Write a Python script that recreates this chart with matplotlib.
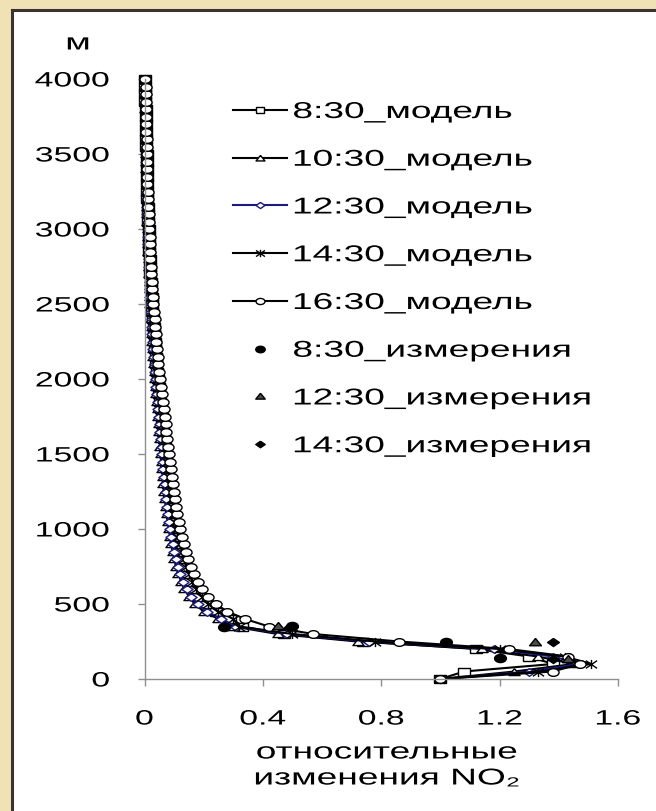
import matplotlib
matplotlib.use("Agg")
import matplotlib.pyplot as plt
from matplotlib import patheffects
from matplotlib.lines import Line2D
from matplotlib.path import Path
from matplotlib.patches import Rectangle
from matplotlib.transforms import Affine2D
import numpy as np

plt.rcParams['font.family'] = ['Liberation Sans', 'DejaVu Sans']

# model levels, m
heights_m = list(range(0, 4001, 50))

# relative NO2 change, model profiles
model_0830 = [1.00, 1.08, 1.38, 1.30, 1.12, 0.74, 0.47, 0.33, 0.29, 0.24,
              0.205, 0.183, 0.166, 0.153, 0.142, 0.133, 0.126, 0.119, 0.113, 0.108,
              0.103, 0.099, 0.094, 0.091, 0.088, 0.084, 0.081, 0.078, 0.076, 0.073,
              0.071, 0.068, 0.065, 0.063, 0.060, 0.058, 0.055, 0.053, 0.050, 0.048,
              0.045, 0.043, 0.040, 0.038, 0.036, 0.034, 0.032, 0.031, 0.029, 0.027,
              0.026, 0.024, 0.022, 0.021, 0.020, 0.019, 0.017, 0.016, 0.015, 0.014,
              0.014, 0.013, 0.012, 0.011, 0.010, 0.009, 0.009, 0.008, 0.008, 0.007,
              0.007, 0.006, 0.006, 0.005, 0.005, 0.004, 0.004, 0.003, 0.003, 0.003,
              0.003]
model_1030 = [1.00, 1.25, 1.45, 1.33, 1.14, 0.72, 0.45, 0.30, 0.25, 0.20,
              0.170, 0.150, 0.135, 0.124, 0.114, 0.107, 0.100, 0.095, 0.090, 0.086,
              0.082, 0.078, 0.075, 0.072, 0.069, 0.066, 0.064, 0.062, 0.060, 0.058,
              0.056, 0.054, 0.052, 0.050, 0.048, 0.046, 0.044, 0.042, 0.040, 0.038,
              0.036, 0.034, 0.032, 0.030, 0.028, 0.027, 0.026, 0.024, 0.023, 0.022,
              0.020, 0.019, 0.018, 0.017, 0.016, 0.015, 0.014, 0.013, 0.012, 0.012,
              0.011, 0.010, 0.010, 0.009, 0.008, 0.008, 0.007, 0.007, 0.006, 0.006,
              0.005, 0.005, 0.005, 0.004, 0.004, 0.004, 0.003, 0.003, 0.003, 0.003,
              0.002]
model_1230 = [1.00, 1.30, 1.47, 1.38, 1.18, 0.76, 0.48, 0.31, 0.26, 0.21,
              0.180, 0.158, 0.142, 0.130, 0.120, 0.113, 0.106, 0.100, 0.095, 0.091,
              0.087, 0.083, 0.080, 0.077, 0.074, 0.071, 0.068, 0.066, 0.064, 0.062,
              0.060, 0.058, 0.055, 0.053, 0.051, 0.049, 0.047, 0.045, 0.043, 0.040,
              0.038, 0.036, 0.034, 0.032, 0.030, 0.029, 0.027, 0.026, 0.024, 0.023,
              0.022, 0.020, 0.019, 0.018, 0.017, 0.016, 0.015, 0.014, 0.013, 0.012,
              0.012, 0.011, 0.010, 0.010, 0.009, 0.008, 0.008, 0.007, 0.007, 0.006,
              0.006, 0.005, 0.005, 0.005, 0.004, 0.004, 0.004, 0.003, 0.003, 0.003,
              0.002]
model_1430 = [1.00, 1.33, 1.51, 1.42, 1.20, 0.78, 0.50, 0.32, 0.30, 0.25,
              0.215, 0.193, 0.175, 0.162, 0.150, 0.141, 0.133, 0.126, 0.120, 0.114,
              0.109, 0.104, 0.100, 0.096, 0.093, 0.089, 0.086, 0.083, 0.080, 0.077,
              0.075, 0.072, 0.069, 0.067, 0.064, 0.061, 0.059, 0.056, 0.053, 0.050,
              0.048, 0.045, 0.042, 0.041, 0.038, 0.036, 0.034, 0.032, 0.031, 0.029,
              0.027, 0.025, 0.023, 0.023, 0.021, 0.020, 0.018, 0.017, 0.016, 0.015,
              0.014, 0.014, 0.013, 0.012, 0.011, 0.010, 0.009, 0.009, 0.008, 0.007,
              0.007, 0.006, 0.006, 0.005, 0.005, 0.005, 0.004, 0.004, 0.004, 0.003,
              0.003]
model_1630 = [1.00, 1.38, 1.47, 1.43, 1.23, 0.86, 0.57, 0.42, 0.34, 0.28,
              0.240, 0.215, 0.195, 0.180, 0.167, 0.157, 0.148, 0.140, 0.133, 0.127,
              0.121, 0.116, 0.111, 0.107, 0.103, 0.099, 0.095, 0.092, 0.089, 0.086,
              0.083, 0.080, 0.077, 0.074, 0.071, 0.068, 0.065, 0.062, 0.059, 0.056,
              0.053, 0.050, 0.047, 0.045, 0.042, 0.040, 0.038, 0.036, 0.034, 0.032,
              0.030, 0.028, 0.026, 0.025, 0.023, 0.022, 0.020, 0.019, 0.018, 0.017,
              0.016, 0.015, 0.014, 0.013, 0.012, 0.011, 0.010, 0.010, 0.009, 0.008,
              0.008, 0.007, 0.007, 0.006, 0.006, 0.005, 0.005, 0.004, 0.004, 0.004,
              0.003]

# measurements
meas_0830_x = [0.27, 0.50, 1.02, 1.20]
meas_0830_h = [350, 355, 250, 140]
meas_1230_x = [0.45, 1.32, 1.43]
meas_1230_h = [355, 245, 135]
meas_1430_x = [0.49, 1.38, 1.38]
meas_1430_h = [350, 250, 135]

x_ticks = [0, 0.4, 0.8, 1.2, 1.6]
x_tick_labels = ['0', '0.4', '0.8', '1.2', '1.6']
y_ticks = list(range(0, 4001, 500))

W, H = 656, 812
TEXT_WIDE = 1.62
MARK_WIDE = 1.45


class WideText(patheffects.AbstractPathEffect):
    """Draws text paths stretched horizontally about one edge or the centre."""

    def __init__(self, factor, anchor='center'):
        super().__init__()
        self.factor = factor
        self.anchor = anchor

    def draw_path(self, renderer, gc, tpath, affine, rgbFace=None):
        box = affine.transform_path(tpath).get_extents()
        if self.anchor == 'left':
            x0 = box.x0
        elif self.anchor == 'right':
            x0 = box.x1
        else:
            x0 = 0.5 * (box.x0 + box.x1)
        stretch = Affine2D().translate(-x0, 0).scale(self.factor, 1).translate(x0, 0)
        renderer.draw_path(gc, tpath, affine + stretch, rgbFace)


def wide_marker(verts, codes=None):
    v = np.asarray(verts, dtype=float) * [MARK_WIDE, 1.0]
    return Path(v, codes)


m_square = wide_marker([(-1, -1), (1, -1), (1, 1), (-1, 1), (-1, -1)])
m_triangle = wide_marker([(0, 1), (-1, -0.8), (1, -0.8), (0, 1)])
m_diamond = wide_marker([(0, 1), (1, 0), (0, -1), (-1, 0), (0, 1)])
m_circle = Path(Path.unit_circle().vertices * [MARK_WIDE, 1.0], Path.unit_circle().codes)
m_star = wide_marker([(-1, -1), (1, 1), (-1, 1), (1, -1), (0, -1.2), (0, 1.2)],
                     [Path.MOVETO, Path.LINETO] * 3)

fig = plt.figure(figsize=(W / 100, H / 100), dpi=100, facecolor='#F1E2B6')
fig.add_artist(Rectangle((12 / W, 0), 1, (H - 11) / H, transform=fig.transFigure,
                         facecolor='white', edgecolor='none', zorder=-5))
fig.add_artist(Line2D([12 / W, 12 / W], [0, (H - 11) / H], color='#3b3232', lw=2.2, zorder=-4))
fig.add_artist(Line2D([12 / W, 1], [(H - 11) / H, (H - 11) / H], color='#3b3232', lw=2.2, zorder=-4))

ax = fig.add_axes([144.5 / W, 132 / H, (618 - 144.5) / W, 600 / H])
ax.set_facecolor('none')

line_kw = dict(lw=1.5, ms=8, mew=1.0, mfc='white', clip_on=False)
h1, = ax.plot(model_0830, heights_m, color='black', marker=m_square, mec='black', **line_kw)
h2, = ax.plot(model_1030, heights_m, color='black', marker=m_triangle, mec='black', **line_kw)
h3, = ax.plot(model_1230, heights_m, color='#1a1a80', marker=m_diamond, mec='#1a1a80', **line_kw)
h4, = ax.plot(model_1430, heights_m, color='black', marker=m_star, mec='black', **line_kw)
h5, = ax.plot(model_1630, heights_m, color='black', marker=m_circle, mec='black', **line_kw)

h6, = ax.plot(meas_0830_x, meas_0830_h, ls='none', marker=m_circle, ms=8.5,
              mfc='black', mec='black', clip_on=False)
h7, = ax.plot(meas_1230_x, meas_1230_h, ls='none', marker=m_triangle, ms=8.5,
              mfc='#4a4a4a', mec='black', clip_on=False)
h8, = ax.plot(meas_1430_x, meas_1430_h, ls='none', marker=m_diamond, ms=8.5,
              mfc='black', mec='black', clip_on=False)

ax.set_xlim(0, 1.6)
ax.set_ylim(0, 4000)
ax.set_xticks(x_ticks)
ax.set_xticklabels(x_tick_labels)
ax.set_yticks(y_ticks)
for side in ('top', 'right'):
    ax.spines[side].set_visible(False)
for side in ('left', 'bottom'):
    ax.spines[side].set_color('#8f8f8f')
    ax.spines[side].set_linewidth(1.0)
ax.tick_params(axis='both', direction='out', length=5, width=1.0, color='#8f8f8f',
               labelsize=15, labelcolor='black')
ax.tick_params(axis='y', pad=20)
ax.tick_params(axis='x', pad=17)
for lbl in ax.get_yticklabels():
    lbl.set_path_effects([WideText(TEXT_WIDE, 'right')])
for lbl in ax.get_xticklabels():
    lbl.set_path_effects([WideText(TEXT_WIDE, 'center')])

labels = ['8:30_модель', '10:30_модель', '12:30_модель', '14:30_модель', '16:30_модель',
          '8:30_измерения', '12:30_измерения', '14:30_измерения']
leg = ax.legend([h1, h2, h3, h4, h5, h6, h7, h8], labels, loc='upper left',
                bbox_to_anchor=((233 - 144.5) / 473.5, (680 - 101) / 600),
                frameon=False, fontsize=16.5, handlelength=2.36, handletextpad=0.26,
                labelspacing=1.08, borderpad=0, borderaxespad=0, markerscale=0.8)
for t in leg.get_texts():
    t.set_path_effects([WideText(TEXT_WIDE, 'left')])

fig.text(78 / W, 1 - 44 / H, 'м', ha='center', va='center', fontsize=16.5,
         path_effects=[WideText(TEXT_WIDE, 'center')])
fig.text(387 / W, 1 - 753 / H, 'относительные', ha='center', va='center', fontsize=16.5,
         path_effects=[WideText(TEXT_WIDE, 'center')])
fig.text(387 / W, 1 - 779 / H, 'изменения NO₂', ha='center', va='center', fontsize=16.5,
         path_effects=[WideText(TEXT_WIDE, 'center')])

fig.savefig('out.png', dpi=100, facecolor=fig.get_facecolor())
